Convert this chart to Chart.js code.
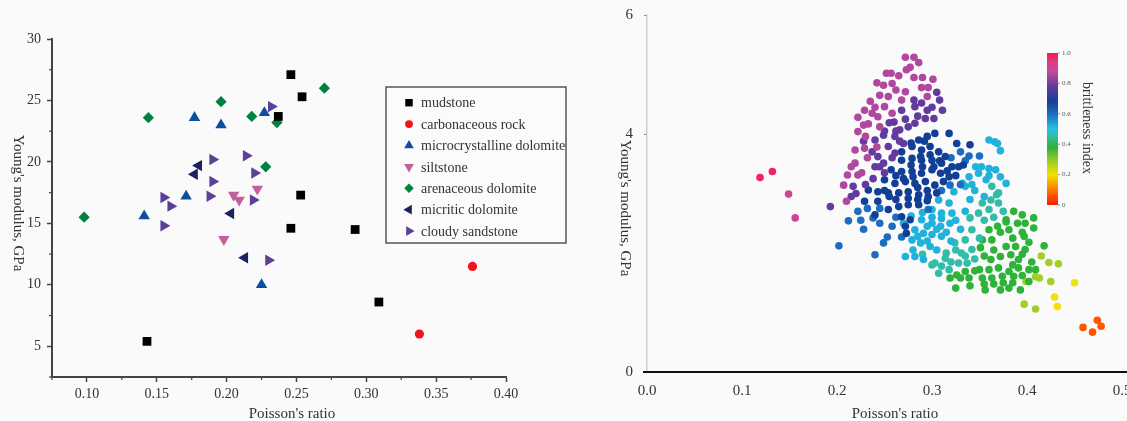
<!DOCTYPE html>
<html>
<head>
<meta charset="utf-8">
<script src="https://cdn.jsdelivr.net/npm/chart.js@4.4.0/dist/chart.umd.min.js"></script>
<style>
  html, body { margin: 0; padding: 0; background: #fafafa; }
  #wrapL { position: absolute; left: 0; top: 0; width: 600px; height: 421px; }
  #wrapR { position: absolute; left: 600px; top: 0; width: 527px; height: 421px; }
</style>
</head>
<body>
<div id="wrapL"><canvas id="leftChart" width="600" height="421"></canvas></div>
<div id="wrapR"><canvas id="rightChart" width="527" height="421"></canvas></div>
<script>
// ---- left panel: Poisson's ratio vs Young's modulus by rock type ----
var rockNames = ['mudstone', 'carbonaceous rock', 'microcrystalline dolomite', 'siltstone',
                 'arenaceous dolomite', 'micritic dolomite', 'cloudy sandstone'];
var mudstone = [[0.246,27.1],[0.254,25.3],[0.237,23.7],[0.253,17.3],[0.246,14.6],[0.292,14.5],[0.309,8.6],[0.143,5.4]];
var carbonaceous = [[0.376,11.5],[0.338,6.0]];
var microDolomite = [[0.177,23.6],[0.196,23.0],[0.227,24.0],[0.171,17.2],[0.141,15.6],[0.225,10.0]];
var siltstone = [[0.205,17.3],[0.209,16.9],[0.222,17.8],[0.198,13.7]];
var arenDolomite = [[0.270,26.0],[0.196,24.9],[0.144,23.6],[0.218,23.7],[0.236,23.2],[0.228,19.6],[0.098,15.5]];
var micriticDolomite = [[0.180,19.7],[0.177,19.0],[0.203,15.8],[0.213,12.2]];
var cloudySandstone = [[0.232,24.5],[0.190,20.2],[0.214,20.5],[0.220,19.1],[0.190,18.4],[0.188,17.2],[0.219,16.9],
                       [0.155,17.1],[0.160,16.4],[0.155,14.8],[0.230,12.0]];
var rockData = [mudstone, carbonaceous, microDolomite, siltstone, arenDolomite, micriticDolomite, cloudySandstone];

// marker look per rock type
var rockColors = ['#000000', '#f0141e', '#0d4f9e', '#c45f9f', '#00813f', '#1c2160', '#5b3f98'];
var rockStyles = ['rect', 'circle', 'triangle', 'triangle', 'rectRot', 'triangle', 'triangle'];
var rockRot = [0, 0, 0, 180, 0, -90, 90];
var rockRadius = [6.2, 4.6, 6.6, 6.6, 5.6, 6.6, 6.6];

// ---- right panel: brittleness index groups ----
var brittleLevels = [0.98, 0.90, 0.86, 0.78, 0.68, 0.60, 0.52, 0.46, 0.38, 0.28, 0.20, 0.06];
var brit98 = [[0.119,3.27],[0.132,3.37]];
var brit90 = [[0.149,2.99],[0.156,2.59]];
var brit86 = [[0.272,5.29],[0.281,5.29],[0.286,5.20],[0.273,5.08],[0.281,4.95],[0.252,5.02],[0.257,5.02],[0.242,4.86],
  [0.249,4.82],[0.301,4.92],[0.289,4.78],[0.262,4.74],[0.272,4.71],[0.254,4.63],[0.268,4.57],[0.295,4.63],[0.229,4.40],
  [0.237,4.35],[0.243,4.29],[0.250,4.46],[0.258,4.35],[0.222,4.28],[0.233,4.17],[0.245,4.12],[0.222,4.04],[0.230,3.96],
  [0.219,3.73],[0.229,3.76],[0.219,3.51],[0.222,3.31],[0.211,3.31],[0.207,3.14],[0.210,2.87],[0.235,4.55],[0.245,4.65],
  [0.258,4.85],[0.265,4.98],[0.277,5.12],[0.240,4.45],[0.228,4.15],[0.242,3.78],[0.232,3.60],[0.226,3.35],[0.215,3.45],
  [0.290,4.95],[0.296,4.78]];
var brit78 = [[0.281,4.57],[0.308,4.57],[0.289,4.52],[0.282,4.46],[0.295,4.40],[0.255,4.19],[0.240,3.90],[0.249,3.98],
  [0.237,3.70],[0.261,3.96],[0.266,4.07],[0.275,4.12],[0.282,4.18],[0.254,3.79],[0.261,3.68],[0.270,3.84],[0.243,3.62],
  [0.240,3.45],[0.249,3.51],[0.311,4.40],[0.302,4.26],[0.293,4.26],[0.217,3.12],[0.220,3.00],[0.193,2.78],[0.272,4.25],
  [0.262,4.05],[0.285,4.30],[0.300,4.45],[0.305,4.70],[0.258,3.60],[0.250,3.35],[0.238,3.25],[0.245,3.45],[0.266,3.88],
  [0.230,3.15],[0.215,2.95],[0.268,4.40],[0.260,4.20],[0.250,4.05],[0.228,3.88]];
var brit68 = [[0.286,3.90],[0.295,3.96],[0.303,4.01],[0.318,4.01],[0.326,3.84],[0.279,3.79],[0.289,3.73],[0.298,3.79],
  [0.307,3.70],[0.314,3.62],[0.268,3.56],[0.279,3.59],[0.289,3.56],[0.300,3.56],[0.310,3.51],[0.321,3.45],[0.257,3.40],
  [0.268,3.37],[0.279,3.37],[0.289,3.34],[0.300,3.40],[0.309,3.34],[0.318,3.28],[0.328,3.45],[0.250,3.23],[0.261,3.17],
  [0.272,3.20],[0.282,3.17],[0.293,3.20],[0.303,3.14],[0.243,3.03],[0.254,3.01],[0.265,3.01],[0.275,3.03],[0.286,2.98],
  [0.296,2.95],[0.305,3.01],[0.233,3.06],[0.229,2.87],[0.243,2.87],[0.254,2.73],[0.265,2.78],[0.275,2.81],[0.286,2.81],
  [0.240,2.64],[0.268,2.61],[0.277,2.56],[0.272,2.45],[0.273,2.33],[0.333,3.48],[0.270,3.25],[0.280,3.28],[0.290,3.45],
  [0.285,3.10],[0.295,3.05],[0.275,2.92],[0.285,2.90],[0.295,2.88],[0.278,3.48],[0.298,3.65],[0.308,3.55],[0.288,3.62],
  [0.268,3.70],[0.278,3.85],[0.292,3.88],[0.262,3.30],[0.312,3.20],[0.302,3.45],[0.262,2.90],[0.250,3.05],[0.255,2.95],
  [0.316,3.38],[0.325,3.30],[0.340,3.82]];
var brit60 = [[0.222,2.70],[0.212,2.54],[0.202,2.12],[0.240,1.97],[0.249,2.17],[0.253,2.27],[0.268,2.27],[0.339,3.63],
  [0.350,3.63],[0.319,3.14],[0.238,2.59],[0.296,2.73],[0.225,2.55],[0.232,2.75],[0.228,2.40],[0.245,2.50],[0.258,2.45],
  [0.262,2.60],[0.320,3.60],[0.330,3.70],[0.335,3.55],[0.310,3.05],[0.330,3.15],[0.245,2.75]];
var brit52 = [[0.307,2.89],[0.318,2.84],[0.323,3.03],[0.332,3.17],[0.339,3.28],[0.335,3.12],[0.300,2.73],[0.310,2.67],
  [0.321,2.67],[0.289,2.56],[0.300,2.50],[0.309,2.45],[0.319,2.50],[0.282,2.39],[0.291,2.33],[0.300,2.31],[0.310,2.28],
  [0.279,2.22],[0.288,2.17],[0.298,2.11],[0.272,1.94],[0.282,1.94],[0.291,1.89],[0.349,3.34],[0.346,3.45],[0.360,3.90],
  [0.366,3.87],[0.369,3.84],[0.372,3.72],[0.360,3.42],[0.367,3.40],[0.372,3.28],[0.378,3.17],[0.357,3.23],[0.290,2.68],
  [0.300,2.60],[0.310,2.58],[0.295,2.45],[0.305,2.40],[0.285,2.28],[0.315,2.35],[0.325,2.55],[0.330,2.40],[0.320,2.20],
  [0.295,2.20],[0.305,2.05],[0.280,2.05],[0.335,2.70],[0.340,2.90],[0.345,3.05],[0.355,2.95],[0.360,3.30],[0.352,3.45],
  [0.342,3.15],[0.270,2.50],[0.278,2.62]];
var brit46 = [[0.363,3.12],[0.370,3.01],[0.303,1.83],[0.314,1.91],[0.307,1.66],[0.318,1.72],[0.328,1.83],[0.324,2.17],
  [0.335,2.22],[0.331,2.00],[0.342,2.39],[0.353,2.84],[0.349,2.67],[0.340,2.59],[0.362,2.89],[0.360,2.73],[0.370,2.84],
  [0.342,2.06],[0.337,1.83],[0.300,1.80],[0.310,1.78],[0.320,1.85],[0.335,1.95],[0.345,1.90],[0.350,2.25],[0.355,2.55],
  [0.365,2.60],[0.375,2.70],[0.368,2.98],[0.315,2.00],[0.325,2.05],[0.290,1.98]];
var brit38 = [[0.386,2.70],[0.395,2.64],[0.407,2.59],[0.378,2.56],[0.390,2.50],[0.381,2.39],[0.407,2.42],[0.360,2.39],
  [0.369,2.45],[0.353,2.22],[0.363,2.22],[0.385,2.25],[0.397,2.28],[0.351,2.09],[0.378,2.11],[0.388,2.11],[0.398,2.06],
  [0.418,2.12],[0.362,1.89],[0.372,1.94],[0.383,1.97],[0.391,1.89],[0.350,1.72],[0.360,1.72],[0.370,1.75],[0.381,1.69],
  [0.391,1.75],[0.402,1.72],[0.409,1.72],[0.339,1.58],[0.353,1.58],[0.363,1.58],[0.374,1.61],[0.386,1.61],[0.325,1.41],
  [0.356,1.38],[0.372,1.38],[0.381,1.41],[0.393,1.38],[0.402,1.52],[0.326,1.63],[0.335,1.69],[0.330,1.58],[0.319,1.58],
  [0.345,1.70],[0.340,1.45],[0.355,1.48],[0.365,1.48],[0.375,1.50],[0.385,1.50],[0.395,1.62],[0.372,2.35],[0.395,2.35],
  [0.402,2.18],[0.385,1.80],[0.395,1.98],[0.365,2.05],[0.355,1.95],[0.378,2.52],[0.398,2.50],[0.405,1.85]];
var brit28 = [[0.399,1.52],[0.413,1.58],[0.415,1.95],[0.423,1.84],[0.433,1.82],[0.425,1.52],[0.409,1.60],[0.397,1.14],[0.409,1.06]];
var brit20 = [[0.450,1.50],[0.429,1.26],[0.432,1.10]];
var brit06 = [[0.459,0.75],[0.469,0.67],[0.474,0.87],[0.478,0.77]];
var brittleGroups = [brit98, brit90, brit86, brit78, brit68, brit60, brit52, brit46, brit38, brit28, brit20, brit06];

var rightYTicks = [0, 4, 6];
var cbTickLabels = ['1.0', '0.8', '0.6', '0.4', '0.2', '0'];
var cbStops = [0, 0.1, 0.2, 0.3, 0.38, 0.45, 0.5, 0.6, 0.68, 0.78, 0.88, 0.95, 1.0];
var cbColors = ['#ff1a00', '#ff7a00', '#f2e200', '#8fc92e', '#2db23a', '#35bb9c', '#22c3e3', '#1c6dc0',
                '#123f96', '#633b9e', '#c44a9f', '#e3387c', '#ff1450'];

var SERIF = "'Liberation Serif', 'Times New Roman', serif";

function hexRgb(h) {
  return [parseInt(h.substr(1, 2), 16), parseInt(h.substr(3, 2), 16), parseInt(h.substr(5, 2), 16)];
}
function cmap(v) {
  for (var i = 0; i < cbStops.length - 1; i++) {
    if (v <= cbStops[i + 1]) {
      var t = (v - cbStops[i]) / (cbStops[i + 1] - cbStops[i]);
      var a = hexRgb(cbColors[i]), b = hexRgb(cbColors[i + 1]);
      return 'rgb(' + [0, 1, 2].map(function (k) { return Math.round(a[k] + (b[k] - a[k]) * t); }).join(',') + ')';
    }
  }
  return cbColors[cbColors.length - 1];
}
function toXY(arr) { return arr.map(function (p) { return { x: p[0], y: p[1] }; }); }

// text rotated clockwise (reads top to bottom)
function vText(ctx, txt, x, y, font, color) {
  ctx.save();
  ctx.translate(x, y);
  ctx.rotate(Math.PI / 2);
  ctx.font = font;
  ctx.fillStyle = color;
  ctx.textAlign = 'center';
  ctx.textBaseline = 'middle';
  ctx.fillText(txt, 0, 0);
  ctx.restore();
}

var leftDecor = {
  id: 'leftDecor',
  afterDraw: function (chart) {
    var ctx = chart.ctx, a = chart.chartArea;
    // short minor ticks
    ctx.save();
    ctx.strokeStyle = '#444';
    ctx.lineWidth = 1.2;
    var sx = chart.scales.x, sy = chart.scales.y;
    sx.ticks.forEach(function (t) {
      if (t.label === '') {
        var px = sx.getPixelForValue(t.value);
        ctx.beginPath(); ctx.moveTo(px, a.bottom); ctx.lineTo(px, a.bottom + 3); ctx.stroke();
      }
    });
    sy.ticks.forEach(function (t) {
      if (t.label === '') {
        var py = sy.getPixelForValue(t.value);
        ctx.beginPath(); ctx.moveTo(a.left, py); ctx.lineTo(a.left - 3, py); ctx.stroke();
      }
    });
    ctx.restore();

    // axis titles
    vText(ctx, "Young's modulus, GPa", 18, 203, '15px ' + SERIF, '#333');
    ctx.save();
    ctx.font = '15px ' + SERIF;
    ctx.fillStyle = '#333';
    ctx.textAlign = 'center';
    ctx.textBaseline = 'middle';
    ctx.fillText("Poisson's ratio", 292, 414);
    ctx.restore();

    // legend box
    ctx.save();
    ctx.fillStyle = '#fbfbfb';
    ctx.fillRect(386, 87, 180, 156);
    ctx.strokeStyle = '#555';
    ctx.lineWidth = 1.5;
    ctx.strokeRect(386, 87, 180, 156);
    chart.data.datasets.forEach(function (ds, i) {
      var y = 102.7 + i * 21.4;
      ctx.fillStyle = ds.backgroundColor;
      ctx.strokeStyle = ds.backgroundColor;
      Chart.helpers.drawPoint(ctx, {
        pointStyle: ds.pointStyle, radius: ds.pointRadius * 0.85, rotation: ds.rotation, borderWidth: 0
      }, 409, y);
      ctx.font = '14px ' + SERIF;
      ctx.fillStyle = '#333';
      ctx.textAlign = 'left';
      ctx.textBaseline = 'middle';
      ctx.fillText(ds.label, 421, y + 1);
    });
    ctx.restore();
  }
};

new Chart(document.getElementById('leftChart').getContext('2d'), {
  type: 'scatter',
  data: {
    datasets: rockNames.map(function (name, i) {
      return {
        label: name,
        data: toXY(rockData[i]),
        backgroundColor: rockColors[i],
        borderColor: rockColors[i],
        borderWidth: 0,
        pointStyle: rockStyles[i],
        rotation: rockRot[i],
        pointRadius: rockRadius[i]
      };
    })
  },
  options: {
    responsive: false,
    animation: false,
    layout: { padding: { left: 0, right: 94, top: 39, bottom: 0 } },
    plugins: { legend: { display: false }, tooltip: { enabled: false } },
    scales: {
      x: {
        type: 'linear', min: 0.075, max: 0.40,
        afterFit: function (s) { s.height = 44; },
        border: { color: '#444', width: 2 },
        grid: {
          drawOnChartArea: false, tickLength: 5, tickWidth: 1.5,
          tickColor: function (c) { return Math.round(c.tick.value * 1000) % 50 === 0 ? '#444' : 'rgba(0,0,0,0)'; }
        },
        ticks: {
          stepSize: 0.025, autoSkip: false, maxRotation: 0, padding: 4, color: '#333',
          font: { family: SERIF, size: 14 },
          callback: function (v) {
            var k = Math.round(v * 1000);
            return k % 50 === 0 ? (k / 1000).toFixed(2) : '';
          }
        }
      },
      y: {
        type: 'linear', min: 2.5, max: 30,
        afterFit: function (s) { s.width = 52; },
        border: { color: '#444', width: 2 },
        grid: {
          drawOnChartArea: false, tickLength: 5, tickWidth: 1.5,
          tickColor: function (c) { return Math.round(c.tick.value * 10) % 50 === 0 ? '#444' : 'rgba(0,0,0,0)'; }
        },
        ticks: {
          stepSize: 2.5, autoSkip: false, padding: 6, color: '#333',
          font: { family: SERIF, size: 14 },
          callback: function (v) { return Math.round(v * 10) % 50 === 0 ? String(v) : ''; }
        }
      }
    }
  },
  plugins: [leftDecor]
});

var rightDecor = {
  id: 'rightDecor',
  afterDraw: function (chart) {
    var ctx = chart.ctx, a = chart.chartArea;
    ctx.save();
    // x axis line, running past both ends
    ctx.strokeStyle = '#111';
    ctx.lineWidth = 2;
    ctx.beginPath(); ctx.moveTo(43, a.bottom); ctx.lineTo(527, a.bottom); ctx.stroke();

    // colour bar
    var top = 53, bot = 205, left = 447, w = 11;
    var g = ctx.createLinearGradient(0, bot, 0, top);
    cbStops.forEach(function (s, i) { g.addColorStop(s, cbColors[i]); });
    ctx.fillStyle = g;
    ctx.fillRect(left, top, w, bot - top);
    ctx.font = '7px ' + SERIF;
    ctx.fillStyle = '#555';
    ctx.strokeStyle = '#777';
    ctx.lineWidth = 0.8;
    ctx.textAlign = 'left';
    ctx.textBaseline = 'middle';
    cbTickLabels.forEach(function (lab, i) {
      var y = top + i * (bot - top) / (cbTickLabels.length - 1);
      ctx.beginPath(); ctx.moveTo(left + w, y); ctx.lineTo(left + w + 2, y); ctx.stroke();
      ctx.fillText(lab, left + w + 4, y);
    });
    ctx.restore();
    vText(ctx, 'brittleness index', 487, 128, '14px ' + SERIF, '#333');

    // axis titles
    vText(ctx, "Young's modulus, GPa", 25, 208, '15px ' + SERIF, '#333');
    ctx.save();
    ctx.font = '15px ' + SERIF;
    ctx.fillStyle = '#333';
    ctx.textAlign = 'center';
    ctx.textBaseline = 'middle';
    ctx.fillText("Poisson's ratio", 295, 414);
    ctx.restore();
  }
};

new Chart(document.getElementById('rightChart').getContext('2d'), {
  type: 'scatter',
  data: {
    datasets: brittleGroups.map(function (pts, i) {
      return {
        label: 'BI ' + brittleLevels[i],
        data: toXY(pts),
        backgroundColor: cmap(brittleLevels[i]),
        borderWidth: 0,
        pointRadius: 3.8
      };
    })
  },
  options: {
    responsive: false,
    animation: false,
    layout: { padding: { left: 0, right: 5, top: 15, bottom: 0 } },
    plugins: { legend: { display: false }, tooltip: { enabled: false } },
    scales: {
      x: {
        type: 'linear', min: 0, max: 0.5,
        afterFit: function (s) { s.height = 49; s.paddingLeft = 0; s.paddingRight = 0; },
        border: { display: false },
        grid: { drawOnChartArea: false, drawTicks: false },
        ticks: {
          stepSize: 0.1, padding: 10, color: '#333', maxRotation: 0,
          font: { family: SERIF, size: 15 },
          callback: function (v) { return Number(v).toFixed(1); }
        }
      },
      y: {
        type: 'linear', min: 0, max: 6,
        afterFit: function (s) { s.width = 47; s.paddingTop = 0; s.paddingBottom = 0; },
        afterBuildTicks: function (s) { s.ticks = rightYTicks.map(function (v) { return { value: v }; }); },
        border: { color: '#cfcfcf', width: 1.5 },
        grid: { drawOnChartArea: false, tickLength: 3, tickColor: '#888' },
        ticks: {
          padding: 11, color: '#333',
          font: { family: SERIF, size: 15 },
          callback: function (v) { return String(v); }
        }
      }
    }
  },
  plugins: [rightDecor]
});
</script>
</body>
</html>
